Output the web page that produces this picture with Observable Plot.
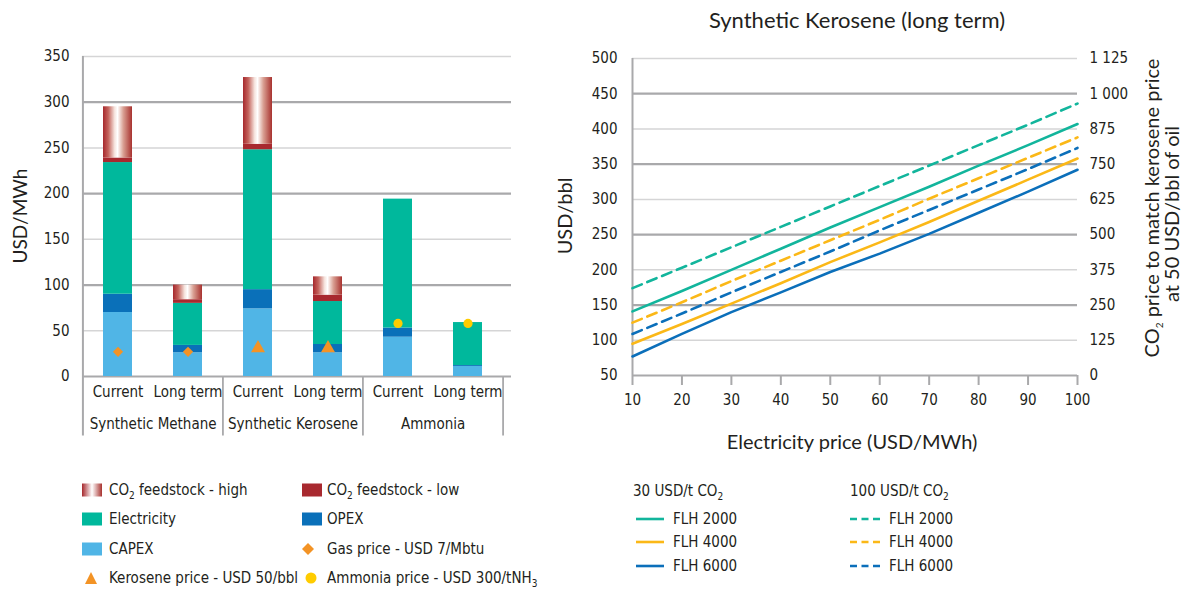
<!DOCTYPE html>
<html><head><meta charset="utf-8">
<script src="https://cdn.jsdelivr.net/npm/d3@7"></script>
<script src="https://cdn.jsdelivr.net/npm/@observablehq/plot@0.6"></script>
<style>
body{margin:0;background:#fff;}
#page{position:relative;width:1182px;height:593px;overflow:hidden;font-family:"DejaVu Sans Condensed","DejaVu Sans",sans-serif;font-stretch:condensed;color:#231f20;}
.abs{position:absolute;white-space:nowrap;}
.ttl{font-family:Lato,"Open Sans",sans-serif;font-size:20px;font-stretch:normal;line-height:22px;}
.vt{transform:translate(-50%,-50%) rotate(-90deg);}
.ct{transform:translate(-50%,-50%);}
.leg{position:absolute;font-size:15px;line-height:20px;height:20px;white-space:nowrap;}
sub{font-size:10px;vertical-align:-4px;line-height:0;}
.sw{position:absolute;}
</style></head>
<body>
<div id="page">
  <div id="left" class="abs" style="left:0;top:0"></div>
  <div id="right" class="abs" style="left:540px;top:0"></div>

  <div class="abs ttl vt" style="left:20px;top:216px;font-size:19px">USD/MWh</div>
  <div class="abs ttl ct" style="left:857px;top:20px;font-size:22px">Synthetic Kerosene (long term)</div>
  <div class="abs ttl vt" style="left:564px;top:216px">USD/bbl</div>
  <div class="abs ttl ct" style="left:852px;top:441px">Electricity price (USD/MWh)</div>
  <div class="abs ttl vt" style="left:1151px;top:208px">CO<sub>2</sub> price to match kerosene price</div>
  <div class="abs ttl vt" style="left:1171px;top:214px">at 50 USD/bbl of oil</div>

  <div id="legendLeft"></div>
  <div id="legendRight"></div>
</div>
<script>
// ---------- Left chart data ----------
const groups = ["Synthetic Methane", "Synthetic Kerosene", "Ammonia"];
const cases = ["Current", "Long term"];
const components = ["CAPEX", "OPEX", "Electricity", "CO2 feedstock - low", "CO2 feedstock - high"];
const capex       = [70, 26, 74, 26, 43, 11];
const opex        = [20,  8, 21,  9, 10,  1];
const electricity = [144, 46, 153, 47, 141, 47];
const co2Low      = [5,  4,  6,  7,  0,  0];
const co2High     = [56, 16, 73, 20,  0,  0];
const gasPrice      = [27, 27];   // Synthetic Methane
const kerosenePrice = [31, 31];   // Synthetic Kerosene
const ammoniaPrice  = [58, 58];   // Ammonia
const yTicksBars = [0, 50, 100, 150, 200, 250, 300, 350];

// ---------- Right chart data ----------
const electricityPrice = [10, 20, 30, 40, 50, 60, 70, 80, 90, 100];
const flhNames = ["FLH 2000", "FLH 4000", "FLH 6000"];
const co2_30_flh2000  = [141, 170, 200, 230, 260, 289, 318, 348, 377, 407];
const co2_30_flh4000  = [95, 123, 152, 181, 211, 239, 268, 298, 328, 358];
const co2_30_flh6000  = [77, 109, 140, 168, 197, 223, 251, 281, 311, 342];
const co2_100_flh2000 = [174, 203, 232, 261, 290, 319, 348, 377, 406, 436];
const co2_100_flh4000 = [125, 154, 184, 213, 242, 271, 301, 330, 359, 388];
const co2_100_flh6000 = [109, 138, 168, 197, 226, 256, 285, 314, 343, 373];
const yTicksLines = [50, 100, 150, 200, 250, 300, 350, 400, 450, 500];
const rightTickLabels = ["0", "125", "250", "375", "500", "625", "750", "875", "1 000", "1 125"];
const xTicksLines = [10, 20, 30, 40, 50, 60, 70, 80, 90, 100];

// ---------- colors ----------
const C = {capex:"#50b5e6", opex:"#0a70b9", elec:"#00b89c", low:"#a8292f",
           teal:"#12b59c", yellow:"#fbb817", blue:"#0b6fba", orange:"#f39325", gold:"#ffcc00",
           gridDark:"#a9a9ab", gridLight:"#d5d5d6"};
const FONT = '"DejaVu Sans Condensed","DejaVu Sans",sans-serif';
const STYLE = {fontFamily: FONT, fontSize: "15px", fontStretch: "condensed", color: "#231f20", background: "transparent", overflow: "visible"};

// ---------- build left table ----------
const keys = [];
groups.forEach(g => cases.forEach(c => keys.push(g + "|" + c)));
const compArrays = [capex, opex, electricity, co2Low, co2High];
const stack = [];
keys.forEach((k, i) => components.forEach((comp, j) => stack.push({key: k, component: comp, value: compArrays[j][i]})));
const gasData = cases.map((c, i) => ({key: groups[0] + "|" + c, v: gasPrice[i]}));
const kerData = cases.map((c, i) => ({key: groups[1] + "|" + c, v: kerosenePrice[i]}));
const ammData = cases.map((c, i) => ({key: groups[2] + "|" + c, v: ammoniaPrice[i]}));
const groupLabels = groups.map(g => ({key: g + "|" + cases[0], label: g}));
const halfStep = 421 / 12;

const left = Plot.plot({
  width: 540, height: 450,
  marginLeft: 82, marginRight: 29, marginTop: 56, marginBottom: 74,
  style: STYLE,
  x: {domain: keys, paddingInner: 0.58, paddingOuter: 0.29, insetRight: 8, tickSize: 0, tickPadding: 10,
      tickFormat: k => k.split("|")[1], label: null},
  y: {domain: [0, 350], ticks: yTicksBars, tickSize: 0, tickPadding: 13, label: null},
  color: {domain: components, range: [C.capex, C.opex, C.elec, C.low, "url(#co2HighGrad)"]},
  marks: [
    Plot.ruleY(yTicksBars.filter(v => v % 100 === 50), {stroke: C.gridLight, strokeWidth: 1.5}),
    Plot.ruleY(yTicksBars.filter(v => v % 100 === 0), {stroke: C.gridDark, strokeWidth: 2.2}),
    Plot.barY(stack, {x: "key", y: "value", fill: "component", order: components}),
    Plot.ruleX([keys[0]], {dx: -halfStep, y1: -65, y2: 350, stroke: C.gridDark, strokeWidth: 2}),
    Plot.ruleX([keys[2], keys[4]], {dx: -halfStep, y1: -65, y2: 0, stroke: C.gridDark, strokeWidth: 1.8}),
    Plot.ruleX([keys[5]], {dx: halfStep, y1: -65, y2: 0, stroke: C.gridDark, strokeWidth: 1.8}),
    Plot.text(groupLabels, {x: "key", y: () => 0, dx: halfStep, dy: 48, text: "label"}),
    Plot.dot(gasData, {x: "key", y: "v", symbol: "diamond2", r: 4.6, fill: C.orange}),
    Plot.dot(kerData, {x: "key", y: "v", symbol: "triangle", r: 5.2, fill: C.orange}),
    Plot.dot(ammData, {x: "key", y: "v", symbol: "circle", r: 4.6, fill: C.gold})
  ]
});
d3.select(left).insert("defs", ":first-child").html(
  `<linearGradient id="co2HighGrad" x1="0" x2="1" y1="0" y2="0">
     <stop offset="0" stop-color="#a6282d"/>
     <stop offset="0.18" stop-color="#c3625b"/>
     <stop offset="0.4" stop-color="#f6e4de"/>
     <stop offset="0.5" stop-color="#ffffff"/>
     <stop offset="0.7" stop-color="#d9a093"/>
     <stop offset="1" stop-color="#a8322f"/>
   </linearGradient>`);
document.getElementById("left").appendChild(left);

// ---------- build right table ----------
const seriesSpec = [
  {co2: "30", flh: flhNames[0], vals: co2_30_flh2000},
  {co2: "30", flh: flhNames[1], vals: co2_30_flh4000},
  {co2: "30", flh: flhNames[2], vals: co2_30_flh6000},
  {co2: "100", flh: flhNames[0], vals: co2_100_flh2000},
  {co2: "100", flh: flhNames[1], vals: co2_100_flh4000},
  {co2: "100", flh: flhNames[2], vals: co2_100_flh6000}
];
const lineRows = [];
seriesSpec.forEach(s => s.vals.forEach((v, i) => lineRows.push({co2: s.co2, flh: s.flh, series: s.co2 + s.flh, x: electricityPrice[i], y: v})));
const rightMap = new Map(yTicksLines.map((v, i) => [v, rightTickLabels[i]]));

const right = Plot.plot({
  width: 642, height: 460,
  marginLeft: 92, marginRight: 105, marginTop: 58, marginBottom: 85,
  style: STYLE,
  x: {domain: [10, 100]},
  y: {domain: [50, 500]},
  color: {domain: flhNames, range: [C.teal, C.yellow, C.blue]},
  marks: [
    Plot.ruleY(yTicksLines.filter(v => v % 100 === 0), {stroke: C.gridLight, strokeWidth: 1.5}),
    Plot.ruleY(yTicksLines.filter(v => v % 100 === 50), {stroke: C.gridDark, strokeWidth: 2.2}),
    Plot.axisX({ticks: xTicksLines, tickSize: 10, tickPadding: 9, stroke: C.gridDark, strokeWidth: 2, fill: "#231f20", label: null}),
    Plot.axisY({ticks: yTicksLines, tickSize: 0, tickPadding: 15, label: null}),
    Plot.axisY({anchor: "right", ticks: yTicksLines, tickSize: 0, tickPadding: 12, tickFormat: d => rightMap.get(d), label: null}),
    Plot.ruleX([10], {stroke: C.gridDark, strokeWidth: 2}),
    Plot.line(lineRows.filter(d => d.co2 === "100"), {x: "x", y: "y", z: "series", stroke: "flh", strokeWidth: 2.6, strokeDasharray: "10,6"}),
    Plot.line(lineRows.filter(d => d.co2 === "30"), {x: "x", y: "y", z: "series", stroke: "flh", strokeWidth: 2.6})
  ]
});
document.getElementById("right").appendChild(right);

// ---------- legends ----------
function item(parent, x, cy, html, swatch, swx) {
  const d = document.createElement("div");
  d.className = "leg";
  d.style.left = x + "px"; d.style.top = (cy - 10) + "px";
  d.innerHTML = html;
  parent.appendChild(d);
  if (swatch) {
    const s = document.createElement("div");
    s.className = "sw"; s.style.left = swx + "px"; s.style.top = (cy - 10) + "px";
    s.innerHTML = swatch;
    parent.appendChild(s);
  }
}
const LL = document.getElementById("legendLeft");
const rect = f => `<svg width="22" height="20"><rect x="0" y="3.5" width="20" height="13" fill="${f}"/></svg>`;
const gradSw = `<svg width="22" height="20"><defs><linearGradient id="lg1" x1="0" x2="1"><stop offset="0" stop-color="#a6282d"/><stop offset="0.5" stop-color="#fff"/><stop offset="1" stop-color="#a8322f"/></linearGradient></defs><rect x="0" y="3.5" width="20" height="13" fill="url(#lg1)"/></svg>`;
const rows = [490, 519, 549, 578];
item(LL, 109, rows[0], "CO<sub>2</sub> feedstock - high", gradSw, 82);
item(LL, 327, rows[0], "CO<sub>2</sub> feedstock - low", rect(C.low), 302);
item(LL, 109, rows[1], "Electricity", rect(C.elec), 82);
item(LL, 327, rows[1], "OPEX", rect(C.opex), 302);
item(LL, 109, rows[2], "CAPEX", rect(C.capex), 82);
item(LL, 327, rows[2], "Gas price - USD 7/Mbtu",
  `<svg width="20" height="20"><path d="M10,4 L16,10 L10,16 L4,10Z" fill="${C.orange}"/></svg>`, 298);
item(LL, 109, rows[3], "Kerosene price - USD 50/bbl",
  `<svg width="20" height="20"><path d="M10,4 L16,16 L4,16Z" fill="${C.orange}"/></svg>`, 81);
item(LL, 327, rows[3], "Ammonia price - USD 300/tNH<sub>3</sub>",
  `<svg width="20" height="20"><circle cx="10" cy="10" r="5.5" fill="${C.gold}"/></svg>`, 301);

const LR = document.getElementById("legendRight");
item(LR, 633, 491, "30 USD/t CO<sub>2</sub>");
item(LR, 850, 491, "100 USD/t CO<sub>2</sub>");
const lcol = [C.teal, C.yellow, C.blue];
const lrows = [519, 542, 566];
flhNames.forEach((n, i) => {
  item(LR, 673, lrows[i], n, `<svg width="30" height="20"><line x1="0" x2="28" y1="10" y2="10" stroke="${lcol[i]}" stroke-width="2.6"/></svg>`, 636);
  item(LR, 889, lrows[i], n, `<svg width="32" height="20"><line x1="0" x2="30" y1="10" y2="10" stroke="${lcol[i]}" stroke-width="2.6" stroke-dasharray="7,4.5"/></svg>`, 850);
});
</script>
</body></html>
